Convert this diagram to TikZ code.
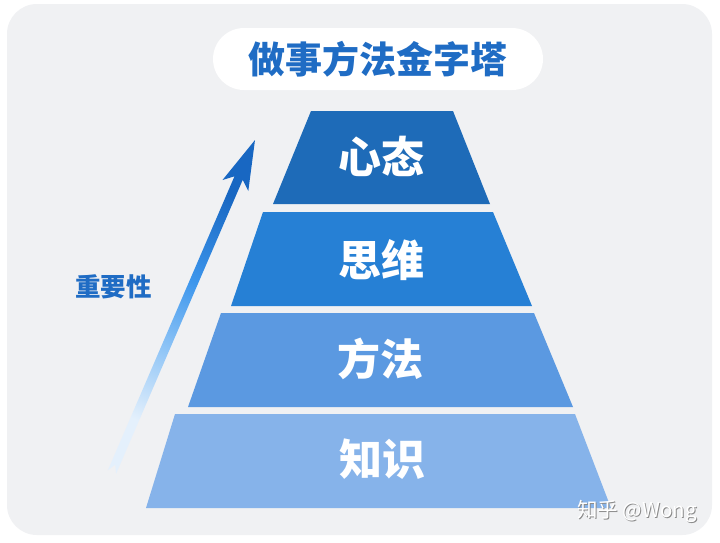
\documentclass[tikz,border=0pt]{standalone}
\usepackage{fontspec}
\newfontfamily\cjk{Noto Sans CJK SC}
\definecolor{bgc}{HTML}{F0F1F3}
\definecolor{titleblue}{HTML}{1F6CC4}
\definecolor{tierA}{HTML}{1E6BB8}
\definecolor{tierB}{HTML}{2680D5}
\definecolor{tierC}{HTML}{5B99E1}
\definecolor{tierD}{HTML}{86B3EA}
\definecolor{arrTop}{HTML}{1867C2}
\definecolor{arrMid}{HTML}{3D96EC}
\definecolor{arrLow}{HTML}{8EC4F6}
\definecolor{arrBot}{HTML}{E4F0FC}
\pgfdeclareverticalshading{arrowshade}{100bp}{color(0bp)=(arrBot); color(28bp)=(arrBot); color(42bp)=(arrLow); color(55bp)=(arrMid); color(72bp)=(arrTop); color(100bp)=(arrTop)}
\tikzset{
  tierlabel/.style={text=white, font=\cjk\bfseries\fontsize{43}{43}\selectfont, inner sep=0pt},
  wmark/.style={font=\cjk\fontsize{20.5}{20.5}\selectfont, inner sep=0pt}
}
\begin{document}
\begin{tikzpicture}[x=1pt,y=-1pt]
\useasboundingbox (0,0) rectangle (720,542);
\fill[white] (0,0) rectangle (720,542);
\fill[bgc, rounded corners=30pt] (7,4) rectangle (712,535);
% title pill
\node[fill=white, rounded corners=31pt, minimum width=330pt, minimum height=62pt, inner sep=0pt,
      text=titleblue, font=\cjk\bfseries\fontsize{37}{37}\selectfont] (title) at (378,59) {做事方法金字塔};
% tiers
\fill[tierA] (311,111) -- (453,111) -- (490,204) -- (273,204) -- cycle;
\fill[tierB] (263,212) -- (493,212) -- (532,306) -- (231,306) -- cycle;
\fill[tierC] (221,313) -- (534,313) -- (573,407) -- (188,407) -- cycle;
\fill[tierD] (175,414) -- (575,414) -- (611,508) -- (146,508) -- cycle;
\node[tierlabel] (t1) at (381,156) {心态};
\node[tierlabel] (t2) at (381,260) {思维};
\node[tierlabel] (t3) at (380,359) {方法};
\node[tierlabel] (t4) at (382,459) {知识};
% arrow
\shade[shading=arrowshade, shading angle=-23.3]
  (107.9,470.2) -- (234.5,176.3) -- (222.5,180.0) -- (255,140) -- (248.3,191.0) -- (242.7,179.9)
  -- (116.1,473.8) -- (115.2,464.7) -- cycle;
\node[text=titleblue, font=\cjk\bfseries\fontsize{25.5}{25.5}\selectfont, inner sep=0pt] (imp) at (113.5,287) {重要性};
% watermark
\node[wmark, text=black!45] (wms) at (638,512) {知乎 @Wong};
\node[wmark, text=white] (wm) at (637,511) {知乎 @Wong};
\end{tikzpicture}
\end{document}
